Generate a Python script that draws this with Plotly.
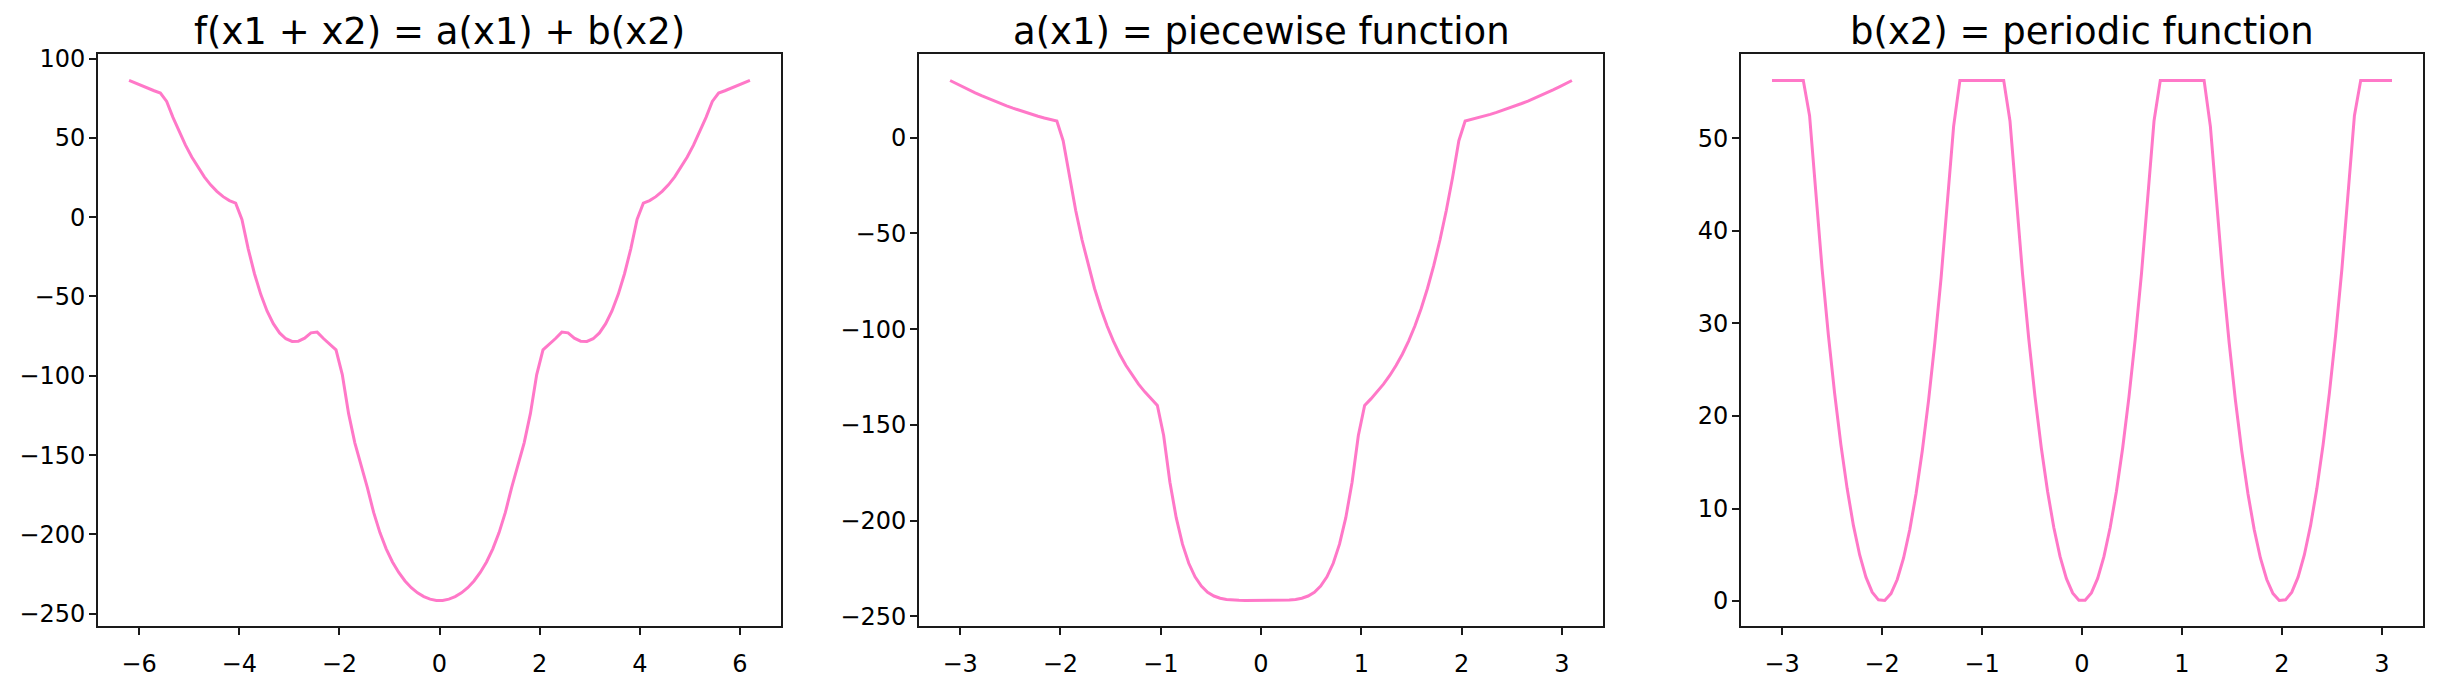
import plotly.graph_objects as go

# ---- data ----
x_half = [-3.1000, -3.0374, -2.9747, -2.9121, -2.8495, -2.7869, -2.7242, -2.6616, -2.5990, -2.5364,
          -2.4737, -2.4111, -2.3485, -2.2859, -2.2232, -2.1606, -2.0980, -2.0354, -1.9727, -1.9101,
          -1.8475, -1.7848, -1.7222, -1.6596, -1.5970, -1.5343, -1.4717, -1.4091, -1.3465, -1.2838,
          -1.2212, -1.1586, -1.0960, -1.0333, -0.9707, -0.9081, -0.8455, -0.7828, -0.7202, -0.6576,
          -0.5949, -0.5323, -0.4697, -0.4071, -0.3444, -0.2818, -0.2192, -0.1566, -0.0939, -0.0313,
          0.0313, 0.0939, 0.1566, 0.2192, 0.2818, 0.3444, 0.4071, 0.4697, 0.5323, 0.5949,
          0.6576, 0.7202, 0.7828, 0.8455, 0.9081, 0.9707, 1.0333, 1.0960, 1.1586, 1.2212,
          1.2838, 1.3465, 1.4091, 1.4717, 1.5343, 1.5970, 1.6596, 1.7222, 1.7848, 1.8475,
          1.9101, 1.9727, 2.0354, 2.0980, 2.1606, 2.2232, 2.2859, 2.3485, 2.4111, 2.4737,
          2.5364, 2.5990, 2.6616, 2.7242, 2.7869, 2.8495, 2.9121, 2.9747, 3.0374, 3.1000]

x_sum = [-6.2000, -6.0747, -5.9495, -5.8242, -5.6990, -5.5737, -5.4485, -5.3232, -5.1980, -5.0727,
         -4.9475, -4.8222, -4.6970, -4.5717, -4.4465, -4.3212, -4.1960, -4.0707, -3.9455, -3.8202,
         -3.6949, -3.5697, -3.4444, -3.3192, -3.1939, -3.0687, -2.9434, -2.8182, -2.6929, -2.5677,
         -2.4424, -2.3172, -2.1919, -2.0667, -1.9414, -1.8162, -1.6909, -1.5657, -1.4404, -1.3152,
         -1.1899, -1.0646, -0.9394, -0.8141, -0.6889, -0.5636, -0.4384, -0.3131, -0.1879, -0.0626,
         0.0626, 0.1879, 0.3131, 0.4384, 0.5636, 0.6889, 0.8141, 0.9394, 1.0646, 1.1899,
         1.3152, 1.4404, 1.5657, 1.6909, 1.8162, 1.9414, 2.0667, 2.1919, 2.3172, 2.4424,
         2.5677, 2.6929, 2.8182, 2.9434, 3.0687, 3.1939, 3.3192, 3.4444, 3.5697, 3.6949,
         3.8202, 3.9455, 4.0707, 4.1960, 4.3212, 4.4465, 4.5717, 4.6970, 4.8222, 4.9475,
         5.0727, 5.1980, 5.3232, 5.4485, 5.5737, 5.6990, 5.8242, 5.9495, 6.0747, 6.2000]

a_vals = [29.91, 28.20, 26.56, 24.97, 23.44, 21.96, 20.54, 19.18, 17.88, 16.63,
          15.44, 14.31, 13.23, 12.21, 11.25, 10.34, 9.49, 8.70, -1.56, -20.79,
          -37.99, -53.30, -66.84, -78.76, -89.21, -98.33, -106.24, -113.09, -119.03, -124.20,
          -128.72, -132.76, -136.43, -139.90, -155.52, -179.94, -198.49, -212.31, -222.32, -229.40,
          -234.25, -237.43, -239.41, -240.58, -241.22, -241.52, -241.65, -241.69, -241.70, -241.70,
          -241.70, -241.70, -241.69, -241.65, -241.52, -241.22, -240.58, -239.41, -237.43, -234.25,
          -229.40, -222.32, -212.31, -198.49, -179.94, -155.52, -139.90, -136.43, -132.76, -128.72,
          -124.20, -119.03, -113.09, -106.24, -98.33, -89.21, -78.76, -66.84, -53.30, -37.99,
          -20.79, -1.56, 8.70, 9.49, 10.34, 11.25, 12.21, 13.23, 14.31, 15.44,
          16.63, 17.88, 19.18, 20.54, 21.96, 23.44, 24.97, 26.56, 28.20, 29.91]

b_vals = [56.25, 56.25, 56.25, 56.25, 56.25, 56.25, 52.45, 43.77, 35.88, 28.77,
          22.44, 16.90, 12.15, 8.17, 4.98, 2.58, 0.96, 0.13, 0.07, 0.81,
          2.33, 4.63, 7.72, 11.59, 16.24, 21.69, 27.91, 34.92, 42.71, 51.29,
          56.25, 56.25, 56.25, 56.25, 56.25, 56.25, 56.25, 56.25, 51.87, 43.24,
          35.39, 28.33, 22.06, 16.57, 11.86, 7.94, 4.80, 2.45, 0.88, 0.10,
          0.10, 0.88, 2.45, 4.80, 7.94, 11.86, 16.57, 22.06, 28.33, 35.39,
          43.24, 51.87, 56.25, 56.25, 56.25, 56.25, 56.25, 56.25, 56.25, 56.25,
          51.29, 42.71, 34.92, 27.91, 21.69, 16.24, 11.59, 7.72, 4.63, 2.33,
          0.81, 0.07, 0.13, 0.96, 2.58, 4.98, 8.17, 12.15, 16.90, 22.44,
          28.77, 35.88, 43.77, 52.45, 56.25, 56.25, 56.25, 56.25, 56.25, 56.25]

f_vals = [86.16, 84.45, 82.81, 81.22, 79.69, 78.21, 72.99, 62.95, 53.76, 45.40,
          37.88, 31.21, 25.38, 20.38, 16.23, 12.92, 10.45, 8.83, -1.49, -19.98,
          -35.66, -48.67, -59.12, -67.17, -72.97, -76.64, -78.33, -78.17, -76.32, -72.91,
          -72.47, -76.51, -80.18, -83.65, -99.27, -123.69, -142.24, -156.06, -170.45, -186.16,
          -198.86, -209.10, -217.35, -224.01, -229.36, -233.58, -236.85, -239.24, -240.82, -241.60,
          -241.60, -240.82, -239.24, -236.85, -233.58, -229.36, -224.01, -217.35, -209.10, -198.86,
          -186.16, -170.45, -156.06, -142.24, -123.69, -99.27, -83.65, -80.18, -76.51, -72.47,
          -72.91, -76.32, -78.17, -78.33, -76.64, -72.97, -67.17, -59.12, -48.67, -35.66,
          -19.98, -1.49, 8.83, 10.45, 12.92, 16.23, 20.38, 25.38, 31.21, 37.88,
          45.40, 53.76, 62.95, 72.99, 78.21, 79.69, 81.22, 82.81, 84.45, 86.16]

titles = ["f(x1 + x2) = a(x1) + b(x2)", "a(x1) = piecewise function", "b(x2) = periodic function"]
x_ticks = [[-6, -4, -2, 0, 2, 4, 6], [-3, -2, -1, 0, 1, 2, 3], [-3, -2, -1, 0, 1, 2, 3]]
y_ticks = [[-250, -200, -150, -100, -50, 0, 50, 100], [-250, -200, -150, -100, -50, 0],
           [0, 10, 20, 30, 40, 50]]

# ---- layout (figure pixel positions, tuned to land on the target) ----
W, H = 2422, 670
LINE = "#ff78c8"
FONT = "DejaVu Sans"
xdom = [(90, 773), (911, 1595), (1733, 2415)]
ytop, ybot = 39, 634
title_mid = 15


def pad_range(v):
    lo, hi = min(v), max(v)
    m = (hi - lo) * 0.05
    return [lo - m, hi + m]


series = [(x_sum, f_vals), (x_half, a_vals), (x_half, b_vals)]

fig = go.Figure()
layout = dict(width=W, height=H, margin=dict(l=0, r=0, t=0, b=0),
              paper_bgcolor="white", plot_bgcolor="white", showlegend=False,
              font=dict(family=FONT, color="black"), annotations=[])

for i, ((xs, ys), title) in enumerate(zip(series, titles)):
    n = "" if i == 0 else str(i + 1)
    fig.add_trace(go.Scatter(x=xs, y=ys, mode="lines", line=dict(color=LINE, width=3),
                             xaxis="x" + n, yaxis="y" + n, hoverinfo="skip"))
    common = dict(showline=True, mirror=True, linecolor="#1a1a1a", linewidth=2,
                  ticks="outside", ticklen=7, tickwidth=2, tickcolor="#1a1a1a",
                  showgrid=False, zeroline=False,
                  tickfont=dict(family=FONT, size=24, color="black"))
    layout["xaxis" + n] = dict(domain=[xdom[i][0] / W, xdom[i][1] / W],
                               range=pad_range(xs), tickmode="array", tickvals=x_ticks[i],
                               anchor="y" + n, ticklabelstandoff=8, **common)
    layout["yaxis" + n] = dict(domain=[1 - ybot / H, 1 - ytop / H],
                               range=pad_range(ys), tickmode="array", tickvals=y_ticks[i],
                               anchor="x" + n, ticklabelstandoff=-1, **common)
    layout["annotations"].append(dict(
        text=title, x=(xdom[i][0] + xdom[i][1]) / 2 / W, y=1 - title_mid / H,
        xref="paper", yref="paper", xanchor="center", yanchor="middle",
        showarrow=False, font=dict(family=FONT, size=37, color="black")))

fig.update_layout(**layout)
fig.write_html("out.html")
